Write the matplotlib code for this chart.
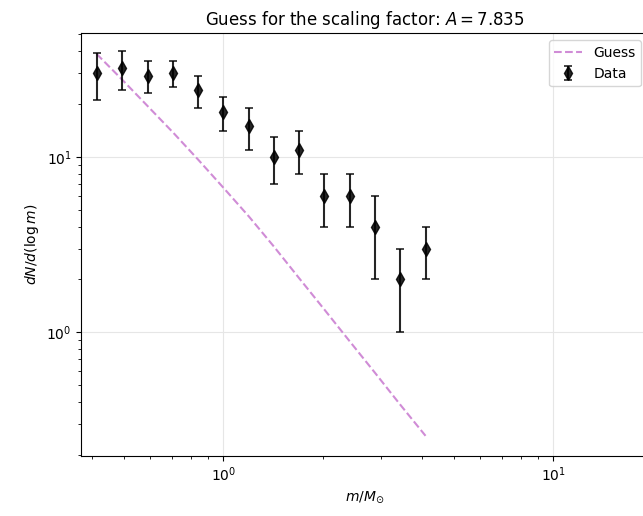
import numpy as np
import matplotlib
matplotlib.use("Agg")
import matplotlib.pyplot as plt

# mass bins (solar masses) and counts
mass = [0.413, 0.494, 0.590, 0.706, 0.840, 1.0, 1.196, 1.424, 1.696, 2.024, 2.414, 2.881, 3.431, 4.104]
dn = [30, 32, 29, 30, 24, 18, 15, 10, 11, 6, 6, 4, 2, 3]
err_lo = [9, 8, 6, 5, 5, 4, 4, 3, 3, 2, 2, 2, 1, 1]
err_hi = [9, 8, 6, 5, 5, 4, 4, 3, 3, 2, 2, 2, 1, 1]

# guess curve sampled at the same masses
guess = [38.6, 27.5, 19.45, 13.7, 9.62, 6.68, 4.57, 3.08, 2.04, 1.35, 0.891, 0.589, 0.389, 0.257]
A = 7.835

fig = plt.figure(figsize=(6.43, 5.16), dpi=100)
# right spine sits just outside the saved image, as in the reference
ax = fig.add_axes([0.1264, 0.1169, 648 / 643 - 0.1264, 0.8182])

ax.plot(mass, guess, ls="--", color="#d08cd6", lw=1.5, label="Guess")
ax.errorbar(mass, dn, yerr=[err_lo, err_hi], fmt="d", color="black", alpha=0.85,
            ms=7, capsize=3, elinewidth=1.5, capthick=1.2, label="Data")

ax.set_xscale("log")
ax.set_yscale("log")
ax.set_xlim(0.371, 19.4)
ax.set_ylim(0.198, 50.5)
ax.grid(True, color="#e6e6e6", lw=0.8)
ax.set_axisbelow(True)

ax.set_xlabel(r"$m/M_{\odot}$")
ax.set_ylabel(r"$dN/d(\log m)$")
ax.set_title(r"Guess for the scaling factor: $A = %.3f$" % A, fontsize=12)
ax.legend(loc="upper right")

fig.savefig("out.png", dpi=100)
